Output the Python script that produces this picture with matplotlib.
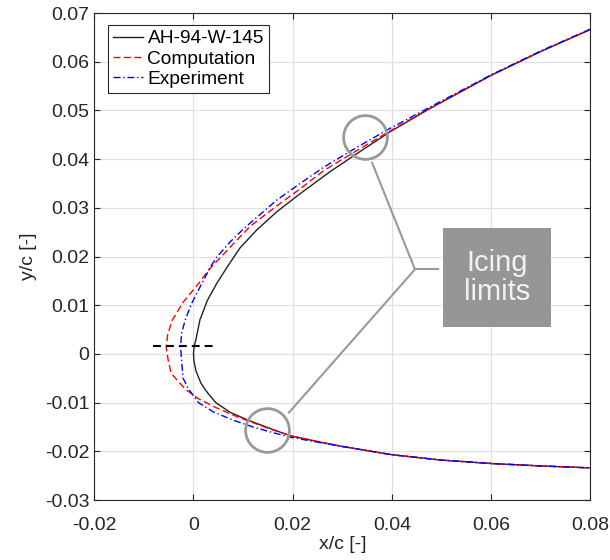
"""Leading-edge ice shape on the AH-94-W-145 section: clean profile,
computed ice accretion and the measured (experimental) ice contour."""

import matplotlib
matplotlib.use("Agg")
import matplotlib.pyplot as plt
from matplotlib.patches import Rectangle
from matplotlib.ticker import FuncFormatter, MultipleLocator

plt.rcParams.update({
    "font.family": ["Liberation Sans", "DejaVu Sans"],
    "font.size": 14,
    "axes.unicode_minus": False,
})

# Clean airfoil, upper surface (trailing side) -> leading edge -> lower surface
airfoil_x = [0.0800, 0.0700, 0.0600, 0.0477, 0.0396, 0.0329, 0.0275, 0.0215,
             0.0168, 0.0127, 0.0094, 0.0067, 0.0047, 0.0028, 0.0013, 0.0005,
             0.0001, 0.0000, 0.0001, 0.0005, 0.0015, 0.0027, 0.0045, 0.0074,
             0.0110, 0.0157, 0.0195, 0.0255, 0.0300, 0.0400, 0.0500, 0.0600,
             0.0700, 0.0800]
airfoil_y = [0.0666, 0.0621, 0.0572, 0.0504, 0.0456, 0.0411, 0.0374, 0.0329,
             0.0292, 0.0254, 0.0218, 0.0177, 0.0145, 0.0110, 0.0070, 0.0030,
             0.0014, 0.0000, -0.0015, -0.0035, -0.0060, -0.0078, -0.0100,
             -0.0120, -0.0136, -0.0154, -0.0168, -0.0181, -0.0190, -0.0207,
             -0.0218, -0.0225, -0.0230, -0.0234]

# Computed ice contour
comp_x = [0.0800, 0.0700, 0.0600, 0.0477, 0.0400, 0.0330, 0.0262, 0.0215,
          0.0168, 0.0114, 0.0057, 0.0030, 0.0013, -0.0021, -0.0043, -0.0052,
          -0.0055, -0.0051, -0.0045, -0.0017, 0.0010, 0.0045, 0.0090, 0.0125,
          0.0157, 0.0195, 0.0255, 0.0300, 0.0400, 0.0500, 0.0600, 0.0700,
          0.0800]
comp_y = [0.0666, 0.0621, 0.0572, 0.0505, 0.0460, 0.0418, 0.0376, 0.0339,
          0.0304, 0.0262, 0.0201, 0.0172, 0.0148, 0.0106, 0.0069, 0.0040,
          0.0014, -0.0013, -0.0040, -0.0072, -0.0092, -0.0110, -0.0130,
          -0.0143, -0.0155, -0.0168, -0.0181, -0.0190, -0.0207, -0.0218,
          -0.0225, -0.0230, -0.0234]

# Measured ice contour
exp_x = [0.0800, 0.0700, 0.0600, 0.0477, 0.0396, 0.0329, 0.0262, 0.0215,
         0.0168, 0.0127, 0.0100, 0.0074, 0.0047, 0.0035, 0.0017, -0.0004,
         -0.0017, -0.0024, -0.0026, -0.0024, -0.0021, -0.0010, 0.0010,
         0.0040, 0.0080, 0.0120, 0.0158, 0.0195, 0.0255, 0.0300, 0.0400,
         0.0500, 0.0600, 0.0700, 0.0800]
exp_y = [0.0667, 0.0622, 0.0573, 0.0507, 0.0463, 0.0424, 0.0383, 0.0350,
         0.0316, 0.0280, 0.0256, 0.0230, 0.0199, 0.0180, 0.0145, 0.0103,
         0.0069, 0.0042, 0.0014, -0.0013, -0.0050, -0.0072, -0.0100,
         -0.0119, -0.0136, -0.0150, -0.0161, -0.0171, -0.0182, -0.0190,
         -0.0207, -0.0218, -0.0225, -0.0230, -0.0234]

# Stagnation line across the leading edge
stag_x = [-0.0082, 0.0041]
stag_y = [0.0016, 0.0016]

# Upper / lower icing limits
limit_x = [0.0346, 0.0148]
limit_y = [0.0446, -0.0157]

fig = plt.figure(figsize=(6.1, 5.6), dpi=100)
ax = fig.add_axes([0.1546, 0.1071, 0.813, 0.8696])

ax.plot(airfoil_x, airfoil_y, color="#222222", lw=1.0, label="AH-94-W-145")
ax.plot(comp_x, comp_y, color="red", lw=1.0, ls=(0, (5, 2.5)), label="Computation")
ax.plot(exp_x, exp_y, color="blue", lw=1.0, ls=(0, (5, 2, 1, 2)), label="Experiment")
ax.plot(stag_x, stag_y, color="black", lw=1.5, ls=(0, (3.8, 2.4)))

gray = "#999999"
ax.plot(limit_x, limit_y, ls="none", marker="o", ms=31.5, mfc="none",
        mec=gray, mew=2.0, zorder=5)

# callout: two leaders meeting at a knee, then a short run into the box
knee = (0.6466, 0.4737)
for end in [(0.5593, 0.6947), (0.3911, 0.1780)]:
    ax.plot([end[0], knee[0]], [end[1], knee[1]], color=gray, lw=1.5,
            transform=ax.transAxes, zorder=5, solid_capstyle="butt")
ax.plot([knee[0], 0.6935], [knee[1], knee[1]], color=gray, lw=1.5,
        transform=ax.transAxes, zorder=5)
ax.add_patch(Rectangle((0.7024, 0.3559), 0.2178, 0.2032, transform=ax.transAxes,
                       facecolor="#969696", edgecolor="none", zorder=5))
ax.text(0.8113, 0.4575, "Icing\nlimits", transform=ax.transAxes, ha="center",
        va="center", fontsize=21, color="#f2f2f2", linespacing=1.05, zorder=6)

ax.set_xlim(-0.02, 0.08)
ax.set_ylim(-0.03, 0.07)
ax.xaxis.set_major_locator(MultipleLocator(0.02))
ax.yaxis.set_major_locator(MultipleLocator(0.01))
fmt = FuncFormatter(lambda v, _: f"{v:g}" if abs(v) > 1e-12 else "0")
ax.xaxis.set_major_formatter(fmt)
ax.yaxis.set_major_formatter(fmt)
ax.tick_params(direction="in", length=4, width=0.8, top=True, right=True,
               color="#262626", labelcolor="#262626", labelsize=14)
ax.tick_params(axis="x", pad=12)
for s in ax.spines.values():
    s.set_color("#262626")
    s.set_linewidth(0.8)
ax.grid(True, color="#e0e0e0", lw=0.9)
ax.set_axisbelow(True)

ax.set_xlabel("x/c [-]", fontsize=14, color="#262626", labelpad=2)
ax.set_ylabel("y/c [-]", fontsize=14, color="#262626", labelpad=6)

leg = ax.legend(loc="upper left", bbox_to_anchor=(0.028, 0.975), borderaxespad=0,
                fontsize=13.8, fancybox=False, framealpha=1, edgecolor="#262626",
                handlelength=1.55, handletextpad=0.25, labelspacing=0.15,
                borderpad=0.25)
leg.get_frame().set_linewidth(0.8)

fig.savefig("out.png", dpi=100)
